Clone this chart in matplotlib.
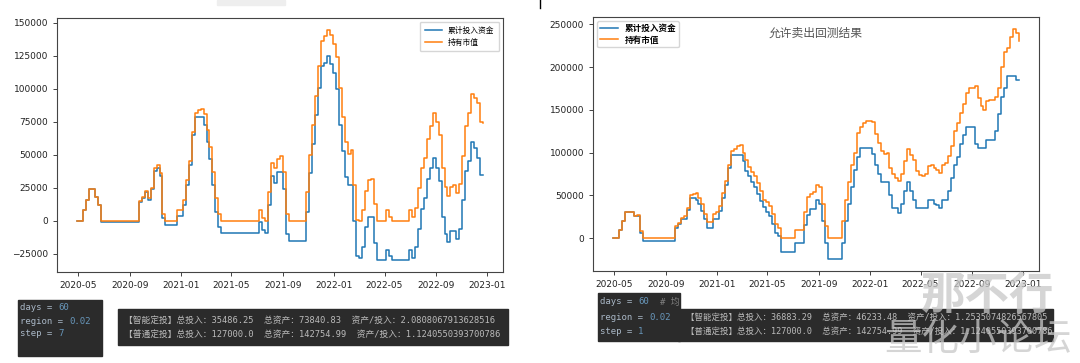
import matplotlib
matplotlib.use("Agg")
import matplotlib.pyplot as plt
import matplotlib.dates as mdates
from matplotlib.ticker import MultipleLocator
from matplotlib.patches import Rectangle
from matplotlib.lines import Line2D
import pandas as pd

################ data (weekly) ################

weeks = pd.date_range("2020-04-29", periods=139, freq="7D")

# left chart: 不允许卖出
left_invest = [
    0, 0, 8000, 16000, 24000, 24000, 18000, 12000,
    -1000, -1000, -1000, -1000, -1000, -1000, -1000, -1000, -1000, -1000, -1000, -1000, -1000,
    14000, 17000, 22000, 16000, 24000, 38000, 40000, 34000, 2000,
    -3500, -3500, -3500, -3500,
    4000, 4000, 12000, 27000, 42000, 65000, 79000, 79000, 79000, 73000, 60000, 47000, 27000, 7000, -5000,
    -9000, -9000, -9000, -9000, -9000, -9000, -9000, -9000, -9000, -9000, -9000, -9000, -9000,
    -1000, -7000, -9000, 12000, 34000, 29000, 37000, 37000, 24000, -10000,
    -15000, -15000, -15000, -15000, -15000, -15000,
    7000, 36000, 58000, 80000, 101000, 117000, 120000, 125000, 119000, 112000, 100000, 73000,
    53000, 33000, 27000, 27000, 0, -27000, -28000, -20000, -5000, 3000, 3000, -17000,
    -30000, -30000, -30000,
    -22000, -27000,
    -30000, -30000, -30000, -30000, -30000, -30000,
    -22000, -28000, -20000, -6000, 9000, 17000, 32000, 40000, 48000, 40000, 30000, 3000, -10000,
    -16000, -8000, -8000, -14000, -6000, 16000, 38000, 45000, 60000, 55000, 48000, 35000, 35000,
]
left_value = [
    0, 0, 8000, 16000, 24000, 24000, 18000, 12000,
    0, 0, 0, 0, 0, 0, 0, 0, 0, 0, 0, 0, 0,
    15000, 18000, 23000, 17000, 25000, 40000, 42000, 36000, 5000,
    0, 0, 0, 0,
    8000, 8000, 16000, 31000, 45000, 67000, 82000, 84000, 85000, 81000, 69000, 56000, 37000, 17000, 5000,
    0, 0, 0, 0, 0, 0, 0, 0, 0, 0, 0, 0, 0,
    8000, 2000, 0, 22000, 44000, 40000, 47000, 49000, 37000, 5000,
    0, 0, 0, 0, 0, 0,
    22000, 50000, 73000, 95000, 117000, 136000, 140000, 145000, 141000, 134000, 124000, 101000,
    79000, 60000, 51000, 54000, 27000, 1000, 0, 8000, 23000, 31000, 32000, 13000,
    0, 0, 0,
    8000, 3000,
    0, 0, 0, 0, 0, 0,
    8000, 3000, 10000, 25000, 40000, 48000, 62000, 72000, 82000, 75000, 65000, 40000, 26000,
    19000, 26000, 27000, 21000, 28000, 49000, 72000, 82000, 96000, 93000, 89000, 75000, 74000,
]

# right chart: 允许卖出
right_invest = [
    0, 0, 10000, 20000, 30000, 30000, 30000, 26000, 26000, 6000,
    -3000, -3000, -3000, -3000, -3000, -3000, -3000, -3000, -3000, -3000, -3000,
    12000, 16000, 22000, 22000, 33000, 47000, 47000, 45000, 40000, 32000, 22000, 12000, 12000,
    22000, 22000, 32000, 47000, 62000, 82000, 97000, 97000, 97000, 97000, 90000, 78000, 72000,
    65000, 60000, 52000, 43000, 36000, 30000, 26000, 16000, 6000, 2000,
    -16000, -16000, -16000, -16000, -16000,
    -6000, -6000, -6000,
    15000, 27000, 34000, 34000, 44000, 40000, 20000, -6000,
    -25000, -25000, -25000, -25000, -25000,
    -6000, 20000, 40000, 60000, 80000, 95000, 105000, 105000, 105000, 105000, 98000, 85000,
    75000, 65000, 65000, 65000, 50000, 35000, 35000, 29000, 40000, 55000, 65000, 55000, 45000,
    35000, 35000, 35000, 35000, 45000, 45000, 40000, 39000, 35000, 45000, 45000, 55000, 70000,
    85000, 95000, 110000, 120000, 130000, 130000, 130000, 110000, 105000, 105000, 105000,
    115000, 115000, 115000, 125000, 145000, 165000, 175000, 190000, 190000, 190000, 185000, 185000,
]
right_value = [
    0, 0, 10000, 20000, 31000, 31000, 31000, 26000, 27000, 8000,
    0, 0, 0, 0, 0, 0, 0, 0, 0, 0, 0,
    14000, 18000, 24000, 26000, 35000, 50000, 52000, 53000, 47000, 40000, 28000, 19000, 19000,
    28000, 30000, 38000, 53000, 67000, 86000, 102000, 104000, 108000, 109000, 100000, 91000, 83000,
    77000, 73000, 64000, 55000, 45000, 42000, 38000, 28000, 17000, 12000,
    0, 0, 0, 0, 0,
    10000, 10000, 10000,
    30000, 48000, 52000, 54000, 62000, 60000, 40000, 14000,
    0, 0, 0, 0, 0,
    20000, 45000, 65000, 86000, 100000, 123000, 130000, 135000, 137000, 137000, 136000, 122000,
    111000, 102000, 98000, 99000, 82000, 75000, 70000, 67000, 75000, 90000, 104000, 97000, 91000,
    78000, 74000, 72000, 75000, 84000, 86000, 82000, 80000, 76000, 86000, 88000, 96000, 108000,
    125000, 134000, 146000, 157000, 170000, 175000, 176000, 178000, 164000, 155000, 150000,
    160000, 161000, 162000, 165000, 175000, 200000, 218000, 222000, 235000, 245000, 240000, 231000,
]

labels = ["累计投入资金", "持有市值"]
right_title = "允许卖出回测结果"

params_left = [("days", "60"), ("region", "0.02"), ("step", "7")]
params_right = [("days", "60"), ("region", "0.02"), ("step", "1")]
result_left = ["【智能定投】总投入：35486.25  总资产：73840.83  资产/投入：2.0808067913628516",
               "【普通定投】总投入：127000.0  总资产：142754.99  资产/投入：1.1240550393700786"]
result_right = ["【智能定投】总投入：36883.29  总资产：46233.48  资产/投入：1.2535074826567805",
                "【普通定投】总投入：127000.0  总资产：142754.99  资产/投入：1.1240550393700786"]

##################### drawing ########################

plt.rcParams['font.family'] = ['DejaVu Sans', 'Noto Sans CJK SC']
W, H = 1080, 363
fig = plt.figure(figsize=(W / 100, H / 100), dpi=100)


def px(x0, y0, x1, y1):
    return [x0 / W, 1 - y1 / H, (x1 - x0) / W, (y1 - y0) / H]


def style(ax, step):
    ax.xaxis.set_major_locator(mdates.MonthLocator(bymonth=[1, 5, 9]))
    ax.xaxis.set_major_formatter(mdates.DateFormatter('%Y-%m'))
    ax.yaxis.set_major_locator(MultipleLocator(step))
    ax.tick_params(labelsize=6.5, length=3, width=0.6, colors='#222222')
    for s in ax.spines.values():
        s.set_color('#444444')


ax1 = fig.add_axes(px(57, 18, 503, 272))
ax1.plot(weeks, left_invest, drawstyle='steps-post', color='#1f77b4', lw=1.1, label=labels[0])
ax1.plot(weeks, left_value, drawstyle='steps-post', color='#ff7f0e', lw=1.1, label=labels[1])
style(ax1, 25000)
ax1.legend(loc='upper right', prop={'family': 'Noto Sans CJK SC', 'size': 5.6},
           handlelength=2.2, borderpad=0.6, labelspacing=0.5)

ax2 = fig.add_axes(px(593, 17, 1039, 271))
ax2.plot(weeks, right_invest, drawstyle='steps-post', color='#1f77b4', lw=1.1, label=labels[0])
ax2.plot(weeks, right_value, drawstyle='steps-post', color='#ff7f0e', lw=1.1, label=labels[1])
style(ax2, 50000)
ax2.legend(loc='upper left', prop={'family': 'Noto Sans CJK SC', 'size': 6.2, 'weight': 'bold'},
           handlelength=2.0, borderpad=0.35, labelspacing=0.25, borderaxespad=0.5)
ax2.text(0.5, 0.935, right_title, transform=ax2.transAxes, ha='center', va='center',
         fontsize=8.5, color='#555555', family='Noto Sans CJK SC')

# console screenshots under the charts
mono = ['DejaVu Sans Mono', 'Noto Sans CJK SC']
fs = 6.5
cw = 0.602 * fs * 100 / 72  # px per mono char


def code_box(x0, y0, x1, y1, params, ys, comment=None):
    fig.add_artist(Rectangle((x0 / W, 1 - y1 / H), (x1 - x0) / W, (y1 - y0) / H,
                             transform=fig.transFigure, color='#2b2b2b', zorder=1))
    for (name, val), yy in zip(params, ys):
        head = name + " = "
        fig.text((x0 + 2) / W, 1 - yy / H, head, family=mono, fontsize=fs,
                 color='#a9b7c6', va='center', zorder=2)
        fig.text((x0 + 2 + len(head) * cw) / W, 1 - yy / H, val, family=mono,
                 fontsize=fs, color='#6897bb', va='center', zorder=2)
    if comment:
        name, val = params[0]
        n = len(name + " = " + val) + 2
        fig.text((x0 + 2 + n * cw) / W, 1 - ys[0] / H, comment, family=mono,
                 fontsize=fs, color='#808080', va='center', zorder=2)


def result_box(x0, y0, x1, y1, lines, ys, tx, fsize):
    fig.add_artist(Rectangle((x0 / W, 1 - y1 / H), (x1 - x0) / W, (y1 - y0) / H,
                             transform=fig.transFigure, color='#2b2b2b', zorder=1))
    for line, yy in zip(lines, ys):
        fig.text(tx / W, 1 - yy / H, line, family=mono, fontsize=fsize,
                 color='#bbbbbb', va='center', zorder=2)


code_box(18, 300, 102, 356, params_left, [307, 321, 334])
result_box(118, 309, 508, 345, result_left, [320, 334], 124, 6.3)

code_box(598, 293, 680, 341, params_right, [302, 317, 331], comment="# 均")
result_box(678, 309, 1053, 341, result_right, [317, 331], 686, 6.1)

# watermark
fig.text(988 / W, 1 - 296 / H, "那不行", family='Noto Sans CJK SC', fontsize=32,
         weight='bold', color='#c8c8c8', alpha=0.75, ha='center', va='center', zorder=5)
fig.text(978 / W, 1 - 339 / H, "量化小论坛", family='Noto Sans CJK SC', fontsize=27,
         color='#c8c8c8', alpha=0.75, ha='center', va='center', zorder=5)

# small screenshot artefacts at the top
fig.add_artist(Line2D([540 / W, 540 / W], [1, 1 - 8 / H], color='black', lw=1))
fig.add_artist(Rectangle((217 / W, 1 - 5 / H), 68 / W, 5 / H, transform=fig.transFigure,
                         color='#eeeeee', zorder=0))

fig.savefig("out.png", dpi=100)
